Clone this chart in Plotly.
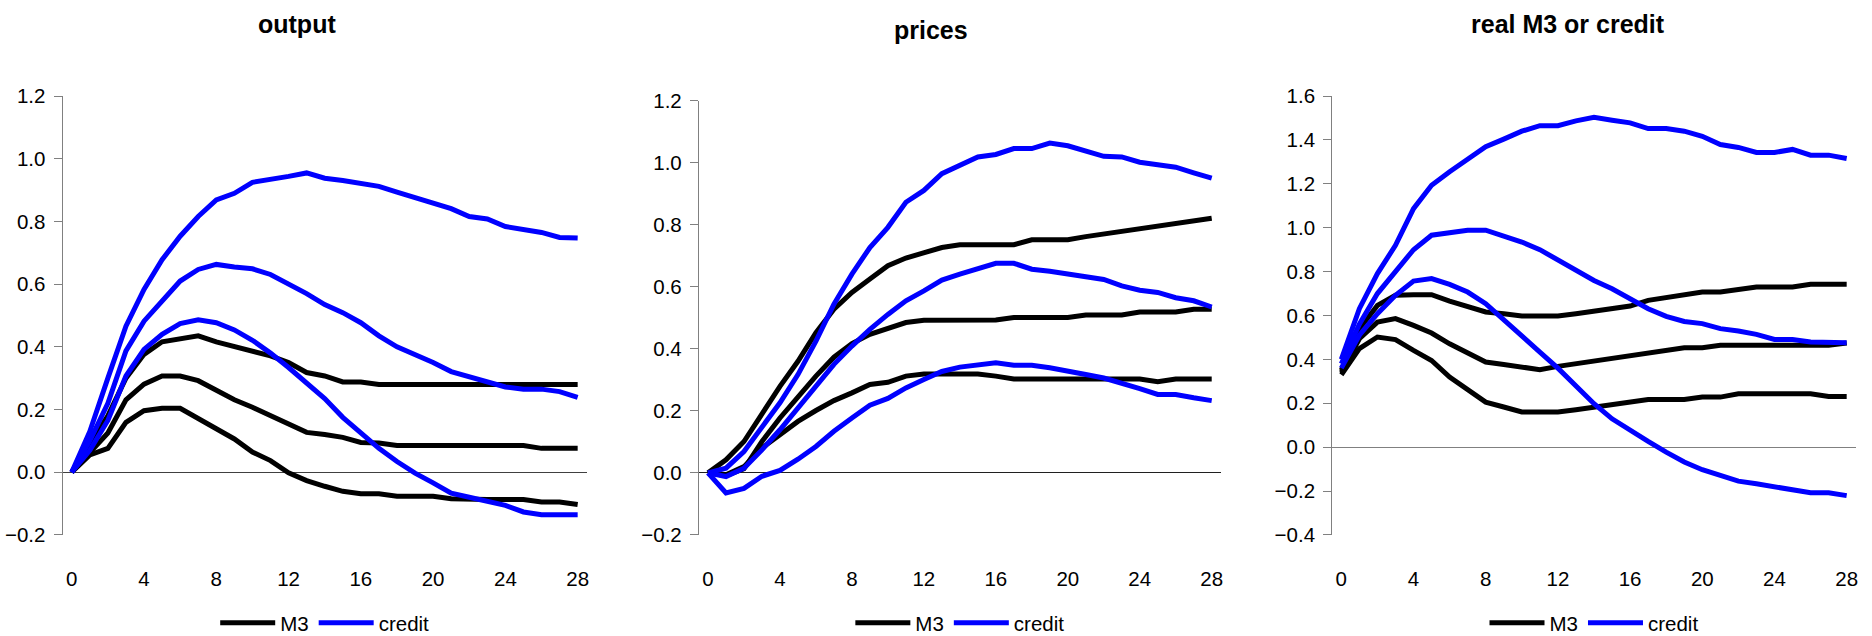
import plotly.graph_objects as go

horizon = list(range(29))
x_tick_vals = [0, 4, 8, 12, 16, 20, 24, 28]

panel_titles = ["output", "prices", "real M3 or credit"]
series_names = ["M3", "credit"]

# ---- output ----
out_m3_upper = [0, 0.09, 0.18, 0.30, 0.376, 0.416, 0.424, 0.435, 0.416, 0.40, 0.387, 0.371, 0.35, 0.318,
                0.307, 0.288, 0.288, 0.28, 0.28, 0.28, 0.28, 0.28, 0.28, 0.28, 0.28, 0.28, 0.28, 0.28, 0.28]
out_m3_median = [0, 0.06, 0.125, 0.231, 0.281, 0.307, 0.307, 0.292, 0.263, 0.231, 0.207, 0.18, 0.15, 0.127,
                 0.12, 0.111, 0.095, 0.093, 0.085, 0.085, 0.085, 0.085, 0.085, 0.085, 0.085, 0.085, 0.076, 0.076, 0.076]
out_m3_lower = [0, 0.055, 0.076, 0.159, 0.196, 0.204, 0.204, 0.172, 0.138, 0.106, 0.064, 0.037, -0.002, -0.027,
                -0.045, -0.061, -0.069, -0.069, -0.077, -0.077, -0.077, -0.085, -0.087, -0.087, -0.087, -0.087,
                -0.095, -0.095, -0.103]
out_cr_upper = [0, 0.13, 0.30, 0.466, 0.583, 0.678, 0.753, 0.816, 0.869, 0.89, 0.925, 0.933, 0.944, 0.955,
                0.938, 0.931, 0.922, 0.912, 0.894, 0.877, 0.861, 0.841, 0.816, 0.808, 0.784, 0.774, 0.765, 0.749, 0.747]
out_cr_median = [0, 0.10, 0.22, 0.387, 0.482, 0.546, 0.61, 0.647, 0.663, 0.655, 0.649, 0.631, 0.602, 0.57,
                 0.535, 0.509, 0.477, 0.435, 0.40, 0.376, 0.35, 0.321, 0.305, 0.289, 0.272, 0.265, 0.265, 0.257, 0.239]
out_cr_lower = [0, 0.07, 0.165, 0.307, 0.392, 0.44, 0.474, 0.486, 0.477, 0.454, 0.421, 0.38, 0.334, 0.286,
                0.235, 0.175, 0.127, 0.076, 0.034, -0.003, -0.034, -0.067, -0.08, -0.095, -0.106, -0.127,
                -0.136, -0.136, -0.136]

# ---- prices ----
pr_m3_upper = [0, 0.042, 0.101, 0.193, 0.279, 0.36, 0.452, 0.528, 0.582, 0.625, 0.668, 0.693, 0.708, 0.727,
               0.736, 0.736, 0.736, 0.736, 0.752, 0.752, 0.752, 0.762, 0.77, 0.781, 0.789, 0.797, 0.805, 0.814, 0.821]
pr_m3_median = [0, -0.009, 0.013, 0.101, 0.177, 0.247, 0.312, 0.373, 0.417, 0.447, 0.468, 0.485, 0.492, 0.493,
                0.493, 0.493, 0.493, 0.501, 0.501, 0.501, 0.501, 0.509, 0.509, 0.509, 0.519, 0.519, 0.519, 0.528, 0.528]
pr_m3_lower = [0, -0.006, 0.02, 0.08, 0.123, 0.166, 0.201, 0.233, 0.258, 0.285, 0.292, 0.312, 0.319, 0.319,
               0.319, 0.319, 0.312, 0.303, 0.303, 0.303, 0.303, 0.303, 0.303, 0.303, 0.303, 0.294, 0.303, 0.303, 0.303]
pr_cr_upper = [0, 0.015, 0.069, 0.145, 0.226, 0.317, 0.425, 0.544, 0.641, 0.727, 0.792, 0.873, 0.911, 0.965,
               0.992, 1.019, 1.027, 1.046, 1.046, 1.064, 1.055, 1.038, 1.021, 1.019, 1.002, 0.994, 0.986, 0.968, 0.951]
pr_cr_median = [0, -0.012, 0.015, 0.074, 0.139, 0.209, 0.279, 0.35, 0.409, 0.463, 0.511, 0.555, 0.587, 0.622,
                0.641, 0.657, 0.676, 0.676, 0.657, 0.65, 0.641, 0.632, 0.624, 0.603, 0.589, 0.582, 0.565, 0.555, 0.535]
pr_cr_lower = [0, -0.065, -0.05, -0.011, 0.008, 0.044, 0.085, 0.134, 0.177, 0.218, 0.24, 0.274, 0.301, 0.327,
               0.341, 0.347, 0.355, 0.347, 0.347, 0.339, 0.33, 0.317, 0.306, 0.29, 0.272, 0.253, 0.253, 0.242, 0.233]

# ---- real M3 or credit ----
rm_m3_upper = [0.35, 0.54, 0.646, 0.692, 0.695, 0.695, 0.666, 0.642, 0.616, 0.608, 0.598, 0.598, 0.598, 0.608,
               0.621, 0.631, 0.643, 0.669, 0.681, 0.695, 0.707, 0.707, 0.719, 0.73, 0.73, 0.73, 0.742, 0.742, 0.742]
rm_m3_median = [0.34, 0.494, 0.57, 0.586, 0.555, 0.52, 0.471, 0.429, 0.388, 0.377, 0.365, 0.353, 0.368, 0.38,
                0.391, 0.403, 0.415, 0.429, 0.441, 0.453, 0.453, 0.464, 0.464, 0.464, 0.464, 0.464, 0.464, 0.464, 0.475]
rm_m3_lower = [0.33, 0.449, 0.502, 0.49, 0.441, 0.395, 0.319, 0.259, 0.205, 0.183, 0.16, 0.16, 0.16, 0.17,
               0.183, 0.193, 0.205, 0.217, 0.217, 0.217, 0.228, 0.228, 0.243, 0.243, 0.243, 0.243, 0.243, 0.231, 0.231]
rm_cr_upper = [0.40, 0.631, 0.791, 0.92, 1.087, 1.194, 1.255, 1.313, 1.369, 1.404, 1.44, 1.465, 1.465, 1.487,
               1.503, 1.49, 1.478, 1.452, 1.452, 1.44, 1.417, 1.379, 1.366, 1.343, 1.343, 1.357, 1.331, 1.331, 1.316]
rm_cr_median = [0.38, 0.56, 0.70, 0.798, 0.90, 0.966, 0.978, 0.989, 0.989, 0.963, 0.935, 0.90, 0.855, 0.806,
                0.76, 0.722, 0.677, 0.631, 0.596, 0.573, 0.563, 0.54, 0.529, 0.514, 0.491, 0.491, 0.479, 0.476, 0.476]
rm_cr_lower = [0.36, 0.51, 0.608, 0.692, 0.757, 0.768, 0.742, 0.707, 0.654, 0.578, 0.505, 0.433, 0.36, 0.281,
               0.198, 0.129, 0.076, 0.026, -0.023, -0.068, -0.103, -0.129, -0.155, -0.167, -0.179, -0.193,
               -0.208, -0.208, -0.221]

panels = [
    ([out_m3_upper, out_m3_median, out_m3_lower], [out_cr_upper, out_cr_median, out_cr_lower]),
    ([pr_m3_upper, pr_m3_median, pr_m3_lower], [pr_cr_upper, pr_cr_median, pr_cr_lower]),
    ([rm_m3_upper, rm_m3_median, rm_m3_lower], [rm_cr_upper, rm_cr_median, rm_cr_lower]),
]
y_ranges = [(-0.2, 1.2), (-0.2, 1.2), (-0.4, 1.6)]

W, H = 1872, 636
x_domains = [(62.7 / W, 586.7 / W), (699 / W, 1220.7 / W), (1332.3 / W, 1855.7 / W)]
y_domains = [(1 - 535 / H, 1 - 96 / H), (1 - 535 / H, 1 - 100.7 / H), (1 - 535 / H, 1 - 96 / H)]
zero_colors = ["#404040", "#202020", "#808080"]
title_pos = [(297, 24), (931, 30), (1568, 24)]

FONT = "Liberation Sans, Arial, sans-serif"
FS = 20.5
colors = {"M3": "#000000", "credit": "#0000FF"}

fig = go.Figure()
layout = dict(
    width=W, height=H, margin=dict(l=0, r=0, t=0, b=0, autoexpand=False),
    paper_bgcolor="white", plot_bgcolor="white",
    font=dict(family=FONT, size=FS, color="#000000"),
    annotations=[],
)

for i, (m3_set, cr_set) in enumerate(panels):
    n = "" if i == 0 else str(i + 1)
    xa, ya = "x" + n, "y" + n
    leg = "legend" + n
    for name, sets in (("M3", m3_set), ("credit", cr_set)):
        for j, vals in enumerate(sets):
            fig.add_trace(go.Scatter(
                x=horizon, y=vals, mode="lines", name=name,
                line=dict(color=colors[name], width=5),
                xaxis=xa, yaxis=ya, legend=leg,
                showlegend=(j == 1), hoverinfo="skip",
            ))
    lo, hi = y_ranges[i]
    layout["xaxis" + n] = dict(
        domain=list(x_domains[i]), anchor=ya, range=[-0.5, 28.5],
        tickvals=x_tick_vals, showgrid=False, zeroline=False, showline=False,
        ticks="", ticklabelstandoff=29, tickfont=dict(size=FS),
    )
    layout["yaxis" + n] = dict(
        domain=list(y_domains[i]), anchor=xa, range=[lo - 0.0005, hi + 0.0005],
        dtick=0.2, tick0=0, tickformat=".1f", showgrid=False,
        zeroline=True, zerolinecolor=zero_colors[i], zerolinewidth=1.2,
        showline=True, linecolor="#808080", linewidth=1.3,
        ticks="outside", ticklen=8, tickcolor="#808080", tickwidth=1.3,
        ticklabelstandoff=4, tickfont=dict(size=FS),
    )
    layout[leg] = dict(
        orientation="h", x=(x_domains[i][0] + x_domains[i][1]) / 2, xanchor="center",
        y=1 - 623 / H, yanchor="middle", bgcolor="rgba(0,0,0,0)",
        font=dict(size=FS), itemwidth=55, tracegroupgap=0,
    )
    tx, ty = title_pos[i]
    layout["annotations"].append(dict(
        text="<b>" + panel_titles[i] + "</b>", x=tx / W, y=1 - ty / H, xref="paper", yref="paper",
        xanchor="center", yanchor="middle", showarrow=False, font=dict(size=25, family=FONT),
    ))

fig.update_layout(**layout)
fig.write_html("out.html")
